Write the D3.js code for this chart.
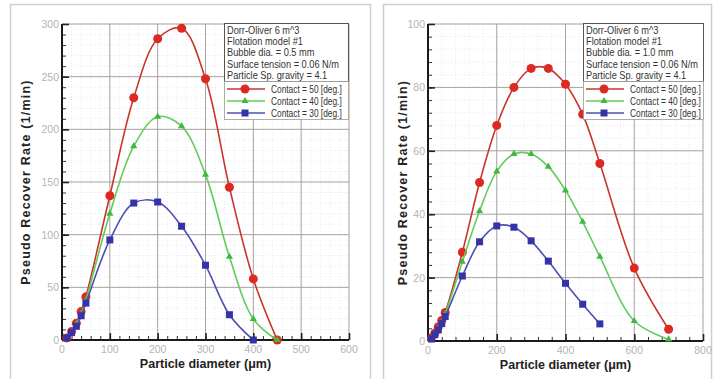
<!DOCTYPE html>
<html lang="en">
<head>
<meta charset="UTF-8">
<script src="https://cdn.jsdelivr.net/npm/d3@7"></script>
<style>
  body { margin: 0; background: #fff; }
  svg text { font-family: "Liberation Sans", Arial, sans-serif; }
</style>
</head>
<body>
<div id="chart"></div>
<script>
    // ---- data ----
    // left panel: bubble dia. 0.5 mm
    var diamA = [10, 20, 30, 40, 50, 100, 150, 200, 250, 300, 350, 400, 450];
    var c50A = [2, 8, 16, 27, 41, 137, 230, 286, 296, 248, 145, 58, 0];
    var c40A = [2, 7, 15, 25, 38, 120, 184, 212, 203, 157, 79, 20, 0];
    var diamA30 = [10, 20, 30, 40, 50, 100, 150, 200, 250, 300, 350, 400];
    var c30A = [2, 7, 13, 23, 35, 95, 130, 131, 108, 71, 24, 0];

    // right panel: bubble dia. 1.0 mm
    var diamB = [10, 20, 30, 40, 50, 100, 150, 200, 250, 300, 350, 400, 450, 500, 600, 700];
    var c50B = [1, 2.5, 4.5, 6.5, 9, 28, 50, 68, 80, 86, 86, 81, 71.5, 56, 23, 3.7];
    var c40B = [1, 2, 4, 6, 8.5, 25, 41, 53.5, 59, 59, 55, 47.5, 37.6, 26.6, 6.3, 0.5];
    var diamB30 = [10, 20, 30, 40, 50, 100, 150, 200, 250, 300, 350, 400, 450, 500];
    var c30B = [0.7, 2, 3.5, 5.5, 7.7, 20.5, 31.3, 36.3, 35.9, 31.6, 25.2, 18.2, 11.6, 5.4];

    var xTicksA = [0, 100, 200, 300, 400, 500, 600];
    var yTicksA = [0, 50, 100, 150, 200, 250, 300];
    var xTicksB = [0, 200, 400, 600, 800];
    var yTicksB = [0, 20, 40, 60, 80, 100];

    var legendLabels = ["Contact = 50 [deg.]", "Contact = 40 [deg.]", "Contact = 30 [deg.]"];
    var infoA = ["Dorr-Oliver 6 m^3", "Flotation model #1", "Bubble dia. = 0.5 mm",
                 "Surface tension = 0.06 N/m", "Particle Sp. gravity = 4.1"];
    var infoB = ["Dorr-Oliver 6 m^3", "Flotation model #1", "Bubble dia. = 1.0 mm",
                 "Surface tension = 0.06 N/m", "Particle Sp. gravity = 4.1"];

    var lineColors = ["#c8352c", "#62cc5a", "#4e4eb4"];
    var markColors = ["#dc2a22", "#3fb840", "#3434a8"];

    var svg = d3.select("#chart").append("svg")
        .attr("width", 714)
        .attr("height", 379);

    // panel frames
    svg.append("rect").attr("x", 10.5).attr("y", 4.5).attr("width", 360).attr("height", 380)
        .attr("fill", "none").attr("stroke", "#cfcfcf").attr("stroke-width", 1.5);
    svg.append("rect").attr("x", 383.5).attr("y", 4.5).attr("width", 328).attr("height", 380)
        .attr("fill", "none").attr("stroke", "#cfcfcf").attr("stroke-width", 1.5);

    // condensed-looking text (no narrow font installed)
    function narrowText(g, tx, ty, str, sx) {
        return g.append("text")
            .attr("transform", "translate(" + tx + "," + ty + ") scale(" + sx + ",1)")
            .attr("font-size", "11px").attr("fill", "#333")
            .text(str);
    }

    function drawPanel(p) {
        var g = svg.append("g");
        var x = d3.scaleLinear().domain([0, p.xMax]).range([p.left, p.right]);
        var y = d3.scaleLinear().domain([0, p.yMax]).range([p.bottom, p.top]);

        // minor grid, dotted
        g.selectAll(".gx-minor").data(d3.range(0, p.xMax + 0.1, p.xMinor))
            .enter().append("line")
            .attr("x1", d => x(d)).attr("x2", d => x(d))
            .attr("y1", p.top).attr("y2", p.bottom)
            .attr("stroke", "#dfe3ea").attr("stroke-width", 0.8).attr("stroke-dasharray", "1,2");
        g.selectAll(".gy-minor").data(d3.range(0, p.yMax + 0.1, p.yMinor))
            .enter().append("line")
            .attr("x1", p.left).attr("x2", p.right)
            .attr("y1", d => y(d)).attr("y2", d => y(d))
            .attr("stroke", "#dfe3ea").attr("stroke-width", 0.8).attr("stroke-dasharray", "1,2");

        // major grid
        g.selectAll(".gx").data(p.xTicks).enter().append("line")
            .attr("x1", d => x(d)).attr("x2", d => x(d))
            .attr("y1", p.top).attr("y2", p.bottom)
            .attr("stroke", "#a9a2a2").attr("stroke-width", 1);
        g.selectAll(".gy").data(p.yTicks).enter().append("line")
            .attr("x1", p.left).attr("x2", p.right)
            .attr("y1", d => y(d)).attr("y2", d => y(d))
            .attr("stroke", "#a9a2a2").attr("stroke-width", 1);

        // axes, ticks pointing inward
        var xAxis = g.append("g").attr("transform", "translate(0," + p.bottom + ")")
            .call(d3.axisTop(x).tickValues(d3.range(0, p.xMax + 0.1, p.xMinor)).tickSize(4).tickFormat(""));
        xAxis.selectAll("line").attr("stroke", "#333");
        xAxis.select(".domain").remove();
        var xMaj = g.append("g").attr("transform", "translate(0," + p.bottom + ")")
            .call(d3.axisTop(x).tickValues(p.xTicks).tickSize(7).tickFormat(""));
        xMaj.selectAll("line").attr("stroke", "#222").attr("stroke-width", 1.6);
        xMaj.select(".domain").remove();

        var yAxis = g.append("g").attr("transform", "translate(" + p.left + ",0)")
            .call(d3.axisRight(y).tickValues(d3.range(0, p.yMax + 0.1, p.yMinor)).tickSize(4).tickFormat(""));
        yAxis.selectAll("line").attr("stroke", "#333");
        yAxis.select(".domain").remove();
        var yMaj = g.append("g").attr("transform", "translate(" + p.left + ",0)")
            .call(d3.axisRight(y).tickValues(p.yTicks).tickSize(7).tickFormat(""));
        yMaj.selectAll("line").attr("stroke", "#222").attr("stroke-width", 1.6);
        yMaj.select(".domain").remove();

        g.append("line").attr("x1", p.left).attr("x2", p.right)
            .attr("y1", p.bottom).attr("y2", p.bottom)
            .attr("stroke", "#1a1a1a").attr("stroke-width", 2);
        g.append("line").attr("x1", p.left).attr("x2", p.left)
            .attr("y1", p.top).attr("y2", p.bottom)
            .attr("stroke", "#1a1a1a").attr("stroke-width", 2);

        // tick labels
        g.selectAll(".xl").data(p.xTicks).enter().append("text")
            .attr("x", d => x(d)).attr("y", p.bottom + 13)
            .attr("text-anchor", "middle")
            .attr("font-size", "10.5px").attr("fill", "#b4b4b4")
            .text(d => d);
        g.selectAll(".yl").data(p.yTicks).enter().append("text")
            .attr("x", p.left - 3).attr("y", d => y(d) + 4)
            .attr("text-anchor", "end")
            .attr("font-size", "10.5px").attr("fill", "#b4b4b4")
            .text(d => d);

        // axis titles
        g.append("text")
            .attr("x", (p.left + p.right) / 2).attr("y", p.bottom + 28)
            .attr("text-anchor", "middle")
            .attr("font-size", "12.5px").attr("font-weight", "bold").attr("fill", "#222")
            .text("Particle diameter (\u03bcm)");
        g.append("text")
            .attr("transform", "translate(" + p.yLabelX + "," + ((p.top + p.bottom) / 2) + ") rotate(-90)")
            .attr("text-anchor", "middle")
            .attr("font-size", "12.5px").attr("font-weight", "bold").attr("fill", "#222")
            .attr("letter-spacing", "1.2px")
            .text("Pseudo Recover Rate (1/min)");

        // series
        var line = d3.line()
            .x(d => x(d[0])).y(d => y(d[1]))
            .curve(d3.curveCatmullRom.alpha(0.5));

        p.series.forEach(function (s, i) {
            var pts = s.xs.map((v, k) => [v, s.ys[k]]);
            g.append("path").datum(pts)
                .attr("d", line)
                .attr("fill", "none")
                .attr("stroke", lineColors[i])
                .attr("stroke-width", 1.6);
            drawMarkers(g, pts.map(d => [x(d[0]), y(d[1])]), i);
        });

        // info / legend box
        var lg = g.append("g");
        lg.append("rect")
            .attr("x", p.boxX + 0.5).attr("y", 23.5)
            .attr("width", p.boxW).attr("height", 58)
            .attr("fill", "#fff").attr("stroke", "#555").attr("stroke-width", 1);
        p.info.forEach(function (t, i) {
            narrowText(lg, p.boxX + 3, 33.5 + i * 11.4, t, 0.84);
        });
        lg.append("rect")
            .attr("x", p.boxX + 0.5).attr("y", 81.5)
            .attr("width", p.boxW).attr("height", 38)
            .attr("fill", "#fff").attr("stroke", "#999").attr("stroke-width", 0.8);
        legendLabels.forEach(function (lab, i) {
            var ly = 89 + i * 12;
            lg.append("line")
                .attr("x1", p.boxX + 3).attr("x2", p.boxX + 41)
                .attr("y1", ly).attr("y2", ly)
                .attr("stroke", lineColors[i]).attr("stroke-width", 1.6);
            drawMarkers(lg, [[p.boxX + 21, ly]], i);
            narrowText(lg, p.boxX + 47, ly + 3.5, lab, 0.76);
        });
    }

    function drawMarkers(g, pts, i) {
        if (i === 0) {
            g.selectAll(null).data(pts).enter().append("circle")
                .attr("cx", d => d[0]).attr("cy", d => d[1]).attr("r", 4.5)
                .attr("fill", markColors[0]);
        } else if (i === 1) {
            var tri = d3.symbol().type(d3.symbolTriangle).size(22);
            g.selectAll(null).data(pts).enter().append("path")
                .attr("d", tri)
                .attr("transform", d => "translate(" + d[0] + "," + d[1] + ")")
                .attr("fill", markColors[1]);
        } else {
            g.selectAll(null).data(pts).enter().append("rect")
                .attr("x", d => d[0] - 3.5).attr("y", d => d[1] - 3.5)
                .attr("width", 7).attr("height", 7)
                .attr("fill", markColors[2]);
        }
    }

    drawPanel({
        left: 62, right: 349, top: 24, bottom: 340,
        xMax: 600, yMax: 300, xMinor: 20, yMinor: 10,
        xTicks: xTicksA, yTicks: yTicksA,
        yLabelX: 30, boxX: 224, boxW: 124, info: infoA,
        series: [
            { xs: diamA, ys: c50A },
            { xs: diamA, ys: c40A },
            { xs: diamA30, ys: c30A }
        ]
    });

    drawPanel({
        left: 428, right: 703, top: 24, bottom: 341,
        xMax: 800, yMax: 100, xMinor: 40, yMinor: 4,
        xTicks: xTicksB, yTicks: yTicksB,
        yLabelX: 407, boxX: 583, boxW: 120, info: infoB,
        series: [
            { xs: diamB, ys: c50B },
            { xs: diamB, ys: c40B },
            { xs: diamB30, ys: c30B }
        ]
    });
</script>
</body>
</html>
